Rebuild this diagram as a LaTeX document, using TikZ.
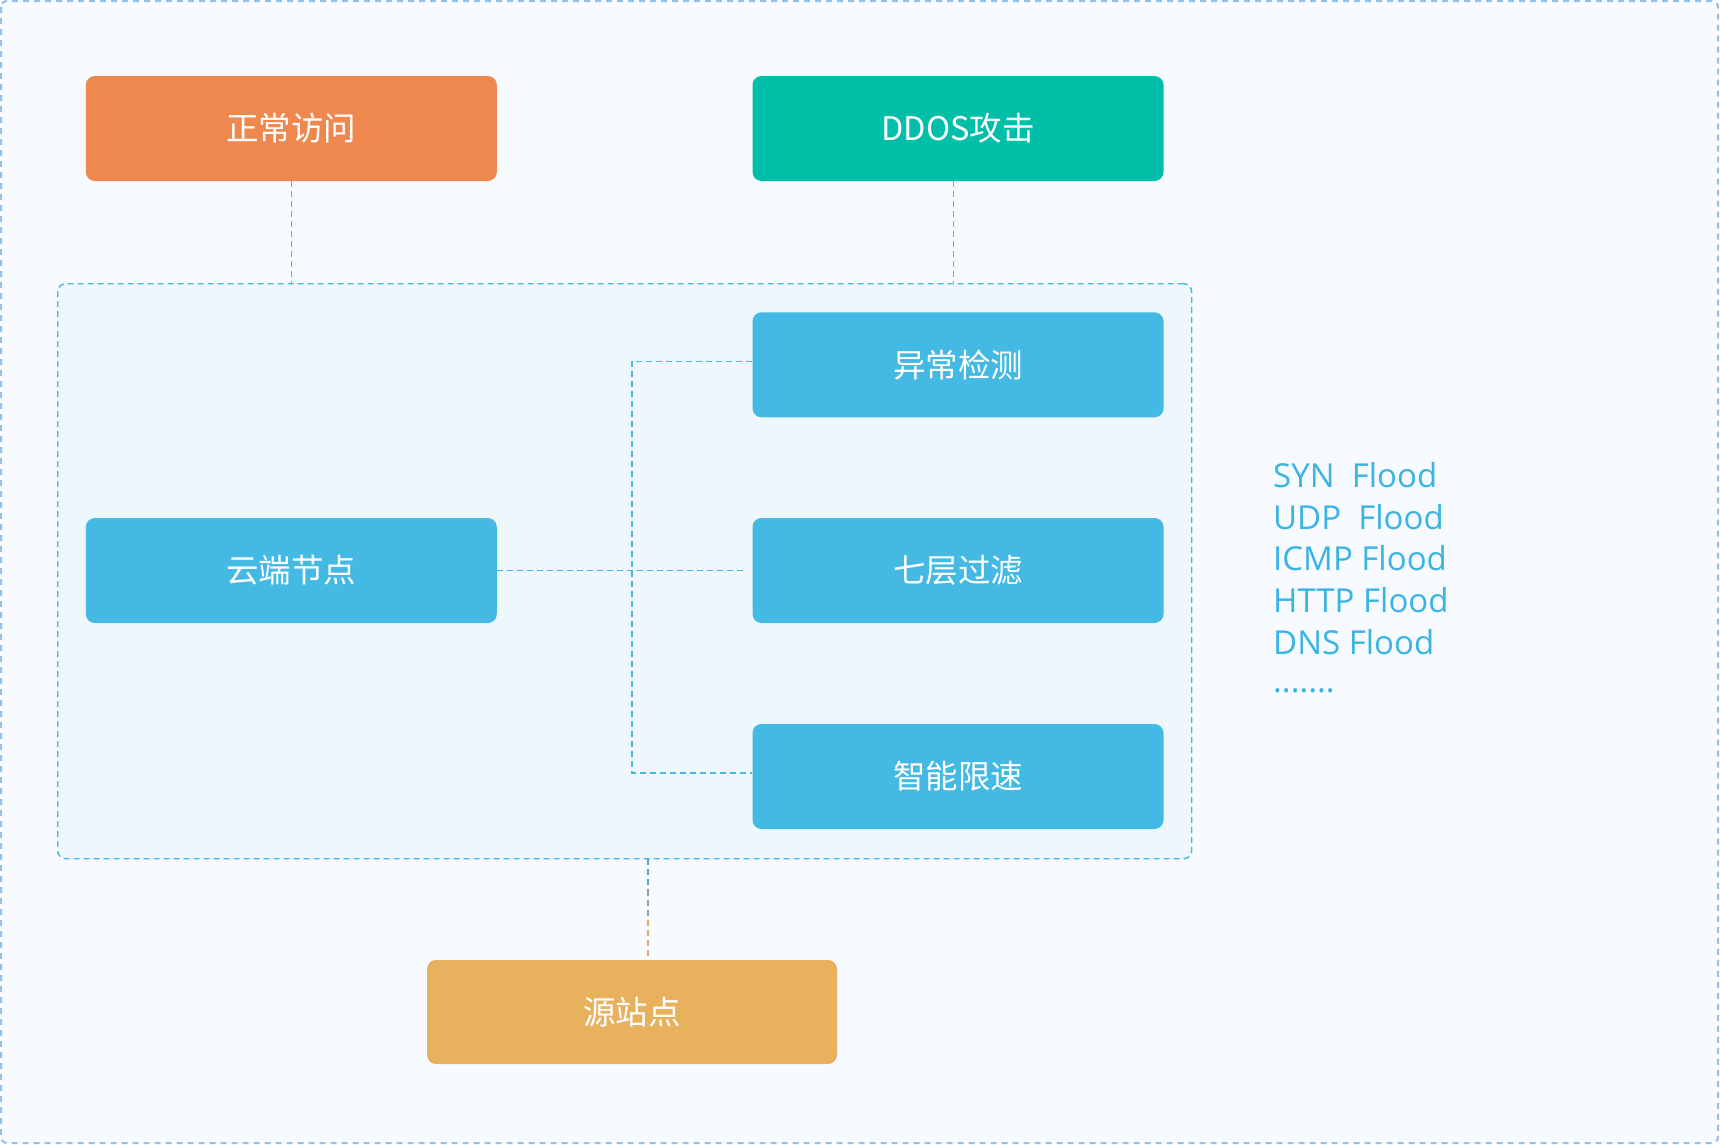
\documentclass[tikz,border=0pt]{standalone}
\usepackage{fontspec}
\usetikzlibrary{calc}
\setmainfont{Open Sans}
\newfontfamily\cjk{Noto Sans CJK SC}
\definecolor{cOrange}{HTML}{EE884F}
\definecolor{cTeal}{HTML}{00BFA9}
\definecolor{cBlue}{HTML}{43B9E4}
\definecolor{cGold}{HTML}{E8B15E}
\definecolor{cBg}{HTML}{F7FBFF}
\definecolor{cInner}{HTML}{EDF7FC}
\definecolor{cOuterLine}{HTML}{93C0EC}
\definecolor{cInnerLine}{HTML}{45B7E3}
\definecolor{cText}{HTML}{3BB4E5}
\definecolor{cConnA}{HTML}{5B9DD2}
\definecolor{cConnB}{HTML}{E8A85A}
\tikzset{
  box/.style={rectangle, rounded corners=9pt, minimum width=411pt, minimum height=105pt,
    inner sep=0pt, text=white, font=\cjk\fontsize{32.5}{38}\selectfont},
  conn/.style={draw=cInnerLine, line width=1.4pt, dash pattern=on 6pt off 4pt},
  flood/.style={anchor=west, inner sep=0pt, text=cText, font=\fontsize{33}{38}\selectfont}
}
\begin{document}
\begin{tikzpicture}[x=1pt, y=-1pt]
\useasboundingbox (0,0) rectangle (1720,1144);
% outer frame
\draw[fill=cBg, draw=cOuterLine, line width=2pt, dash pattern=on 6pt off 5pt, rounded corners=6pt]
  (1,1) rectangle (1718,1143);
% inner region
\node[draw=cInnerLine, fill=cInner, line width=1.4pt, dash pattern=on 6pt off 4pt,
  rounded corners=8pt, inner sep=0pt, minimum width=1134pt, minimum height=575pt,
  anchor=north west] (inner) at (57,283) {};
% boxes
\node[box, fill=cOrange] (zc) at (291.3,128.5) {正常访问};
\node[box, fill=cTeal] (dd) at (958,128.5) {DDOS攻击};
\node[box, fill=cBlue] (yc) at (958,364.8) {异常检测};
\node[box, fill=cBlue] (qc) at (958,570.5) {七层过滤};
\node[box, fill=cBlue] (zn) at (958,776.5) {智能限速};
\node[box, fill=cBlue] (yd) at (291.3,570.5) {云端节点};
\node[box, fill=cGold, minimum width=410pt, minimum height=104pt] (yz) at (632,1012) {源站点};
% connectors
\coordinate (bus) at (632,0);
\coordinate (sx) at (648,0);
\coordinate (dx) at (953.5,0);
\draw[conn] (zc.south) -- (zc.south |- inner.north);
\draw[conn] (dd.south -| dx) -- (inner.north -| dx);
\draw[conn] (yd.east) -- ([xshift=-6pt]qc.west);
\coordinate (ya) at ($(yc.west)+(0,-3.5)$);
\coordinate (za) at ($(zn.west)+(0,-3.5)$);
\draw[conn] (ya) -| (bus |- za) -- (za);
% source connector with colour blend
\coordinate (s0) at (inner.south -| sx);
\coordinate (s1) at (yz.north -| sx);
\draw[conn, draw=cConnA] (s0) -- ($(s0)!0.3!(s1)$);
\draw[conn, draw=cConnA!60!cConnB] ($(s0)!0.3!(s1)$) -- ($(s0)!0.6!(s1)$);
\draw[conn, draw=cConnB] ($(s0)!0.6!(s1)$) -- (s1);
% attack list
\node[flood] (f1) at (1273,475) {SYN\ \ Flood};
\node[flood] (f2) at (1273,516.7) {UDP\ \ Flood};
\node[flood] (f3) at (1273,558.4) {ICMP Flood};
\node[flood] (f4) at (1273,600.5) {HTTP Flood};
\node[flood] (f5) at (1273,642.5) {DNS Flood};
\node[flood] (f6) at (1273,691) {.......};
\end{tikzpicture}
\end{document}
